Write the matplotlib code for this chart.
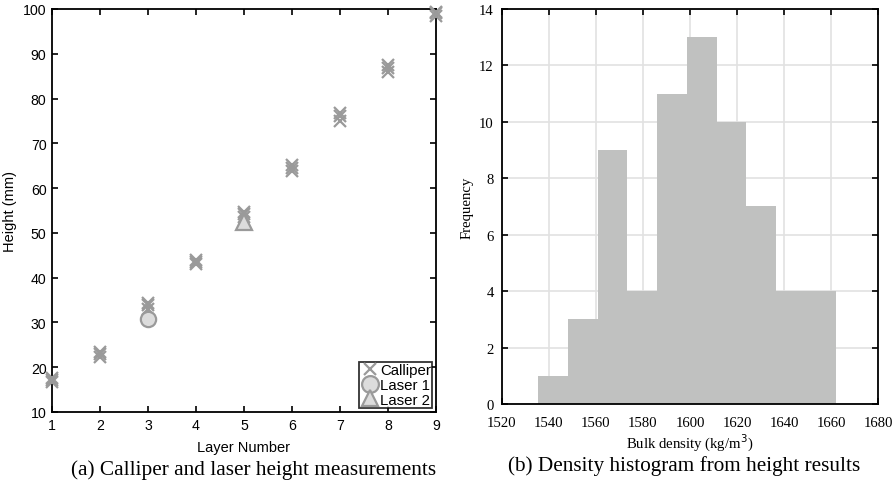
import matplotlib.pyplot as plt

# ---- Data ----------------------------------------------------------------
# Calliper readings: three measurements per layer
layers = [1, 2, 3, 4, 5, 6, 7, 8, 9]
calliper_a = [16.6, 22.3, 33.0, 43.0, 53.6, 63.8, 75.0, 86.0, 98.4]
calliper_b = [17.1, 22.9, 33.8, 43.5, 54.2, 64.5, 76.1, 86.8, 99.0]
calliper_c = [17.6, 23.3, 34.3, 44.0, 54.7, 65.1, 76.8, 87.5, 99.4]

laser1_layer = [3]
laser1_height = [30.7]
laser2_layer = [5]
laser2_height = [52.4]

# Density histogram (10 bins)
bin_edges = [1535.3, 1548.0, 1560.7, 1573.3, 1586.0, 1598.7,
             1611.4, 1624.0, 1636.7, 1649.4, 1662.1]
counts = [1, 3, 9, 4, 11, 13, 10, 7, 4, 4]

# ---- Figure setup --------------------------------------------------------
fig = plt.figure(figsize=(8.96, 4.85), dpi=100)
ax1 = fig.add_axes([0.058, 0.1485, 0.4286, 0.8309])
ax2 = fig.add_axes([0.5603, 0.165, 0.4196, 0.8144])

sans = "Liberation Sans"
serif = "Liberation Serif"
grey = "#9a9a9a"

# ---- (a) height measurements ---------------------------------------------
for i, ys in enumerate([calliper_a, calliper_b, calliper_c]):
    ax1.plot(layers, ys, linestyle="none", marker="x", markersize=8,
             markeredgewidth=1.6, color=grey,
             label="Calliper" if i == 0 else None, clip_on=False, zorder=3)
ax1.plot(laser1_layer, laser1_height, linestyle="none", marker="o",
         markersize=11, markerfacecolor="#dcdcdc", markeredgecolor=grey,
         markeredgewidth=1.6, label="Laser 1", zorder=4)
ax1.plot(laser2_layer, laser2_height, linestyle="none", marker="^",
         markersize=11, markerfacecolor="#dcdcdc", markeredgecolor=grey,
         markeredgewidth=1.6, label="Laser 2", zorder=4)

ax1.set_xlim(1, 9)
ax1.set_ylim(10, 100)
ax1.set_xticks(range(1, 10))
ax1.set_yticks(range(10, 101, 10))
ax1.tick_params(direction="in", top=True, right=True, length=4, width=1.2,
                labelsize=10.2, pad=4)
for lab in ax1.get_xticklabels() + ax1.get_yticklabels():
    lab.set_family(sans)
ax1.set_xlabel("Layer Number", fontsize=10.5, family=sans, labelpad=6)
ax1.set_ylabel("Height (mm)", fontsize=10.5, family=sans, labelpad=4)
for sp in ax1.spines.values():
    sp.set_linewidth(1.3)

leg = ax1.legend(loc="lower right", prop={"family": sans, "size": 10.8},
                 frameon=True, fancybox=False, edgecolor="black",
                 borderpad=0.1, handletextpad=0.0, handlelength=1.3,
                 labelspacing=0.05, borderaxespad=0.25, markerscale=1.1)
leg.get_frame().set_linewidth(1.3)

fig.text(0.283, 0.031, "(a) Calliper and laser height measurements",
         ha="center", va="center", family=serif, fontsize=15.3)

# ---- (b) density histogram -----------------------------------------------
ax2.stairs(counts, bin_edges, fill=True, color="#c0c1c0", zorder=2)
ax2.set_xlim(1520, 1680)
ax2.set_ylim(0, 14)
ax2.set_xticks(range(1520, 1681, 20))
ax2.set_yticks(range(0, 15, 2))
ax2.grid(True, color="#e2e2e2", linewidth=1.2, zorder=0)
ax2.set_axisbelow(True)
ax2.tick_params(direction="in", top=True, right=True, length=4, width=1.2,
                labelsize=10.6)
ax2.tick_params(axis="x", pad=9)
ax2.tick_params(axis="y", pad=6)
for lab in ax2.get_xticklabels() + ax2.get_yticklabels():
    lab.set_family(serif)
ax2.set_xlabel("Bulk density (kg/m$^3$)", fontsize=10.6, family=serif,
               labelpad=2)
ax2.set_ylabel("Frequency", fontsize=10.6, family=serif, labelpad=4)
for sp in ax2.spines.values():
    sp.set_linewidth(1.3)

fig.text(0.763, 0.039, "(b) Density histogram from height results",
         ha="center", va="center", family=serif, fontsize=15.3)

fig.savefig("out.png", dpi=100)
